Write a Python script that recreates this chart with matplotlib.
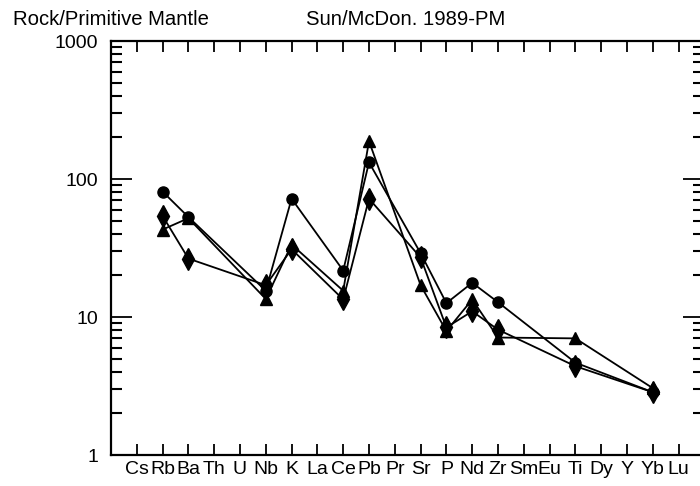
import numpy as np
import matplotlib.pyplot as plt
from matplotlib.ticker import LogLocator, NullFormatter, FixedLocator

plt.rcParams['font.family'] = ['Liberation Sans', 'DejaVu Sans']

elements = ['Cs', 'Rb', 'Ba', 'Th', 'U', 'Nb', 'K', 'La', 'Ce', 'Pb', 'Pr',
            'Sr', 'P', 'Nd', 'Zr', 'Sm', 'Eu', 'Ti', 'Dy', 'Y', 'Yb', 'Lu']

# sample values (NaN = not analysed), normalised to primitive mantle
circle = [np.nan, 81, 53, np.nan, np.nan, 15.5, 72, np.nan, 21.7, 132, np.nan,
          29, 12.6, 17.7, 12.8, np.nan, np.nan, 4.67, np.nan, np.nan, 2.85, np.nan]
triangle = [np.nan, 43, 52, np.nan, np.nan, 13.5, 33.5, np.nan, 15.5, 188, np.nan,
            17, 7.9, 13.4, 7.1, np.nan, np.nan, 7.0, np.nan, np.nan, 3.05, np.nan]
diamond = [np.nan, 54, 26.5, np.nan, np.nan, 17, 31, np.nan, 13.4, 72, np.nan,
           27, 8.4, 11, 8.1, np.nan, np.nan, 4.4, np.nan, np.nan, 2.85, np.nan]

x = np.arange(1, len(elements) + 1)

fig = plt.figure(figsize=(7.0, 4.86), dpi=100)
ax = fig.add_axes([111 / 700, 1 - 455 / 486, 593.4 / 700, 414 / 486])

for vals, mk, ms in [(triangle, '^', 9), (diamond, 'd', 11), (circle, 'o', 8)]:
    v = np.array(vals, dtype=float)
    m = ~np.isnan(v)
    ax.plot(x[m], v[m], color='black', lw=1.3, marker=mk, ms=ms,
            mfc='black', mec='black', zorder=3)

ax.set_yscale('log')
ax.set_ylim(1, 1000)
ax.set_xlim(0, len(elements) + 1)

ax.xaxis.set_major_locator(FixedLocator(x))
ax.set_xticklabels(elements)
ax.yaxis.set_minor_locator(LogLocator(base=10, subs=np.arange(2, 10), numticks=20))
ax.yaxis.set_minor_formatter(NullFormatter())
ax.set_yticks([1, 10, 100, 1000])
ax.set_yticklabels(['1', '10', '100', '1000'])

ax.tick_params(axis='x', which='major', direction='in', top=True, bottom=True,
               length=8, width=1.3, labelsize=14, pad=4)
ax.tick_params(axis='y', which='major', direction='in', left=True, right=True,
               length=15, width=1.3, labelsize=14, pad=9)
ax.tick_params(axis='y', which='minor', direction='in', left=True, right=True,
               length=8, width=1.5)
for s in ax.spines.values():
    s.set_linewidth(1.6)

fig.text(13 / 700, 1 - 25 / 486, 'Rock/Primitive Mantle', fontsize=14.6, va='baseline')
fig.text(306 / 700, 1 - 25 / 486, 'Sun/McDon. 1989-PM', fontsize=14.6, va='baseline')

fig.savefig('out.png', dpi=100)
